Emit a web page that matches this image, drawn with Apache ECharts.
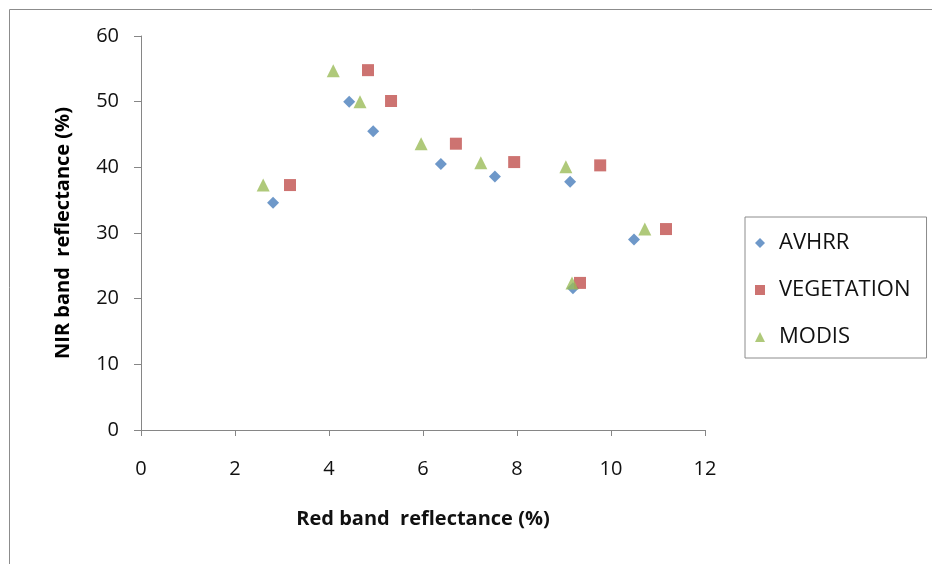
<!DOCTYPE html>
<html>
<head>
<meta charset="utf-8">
<script src="https://cdn.jsdelivr.net/npm/echarts@6/dist/echarts.min.js"></script>
<style>
    html, body { margin: 0; padding: 0; background: #fff; }
    #chart { width: 932px; height: 564px; }
</style>
</head>
<body>
<div id="chart"></div>
<script>
// red band (x) / NIR band (y) reflectance, %
var avhrrX = [2.81, 4.43, 4.94, 6.38, 7.53, 9.13, 9.19, 10.49];
var avhrrY = [34.6, 50.0, 45.5, 40.5, 38.6, 37.8, 21.6, 29.0];
var vegX = [3.17, 4.83, 5.32, 6.70, 7.94, 9.77, 9.34, 11.17];
var vegY = [37.3, 54.8, 50.1, 43.6, 40.8, 40.3, 22.4, 30.6];
var modisX = [2.60, 4.09, 4.66, 5.96, 7.23, 9.04, 9.17, 10.72];
var modisY = [37.3, 54.7, 50.0, 43.6, 40.7, 40.1, 22.4, 30.6];

var xTicks = [0, 2, 4, 6, 8, 10, 12];
var yTicks = [0, 10, 20, 30, 40, 50, 60];

function pairs(xs, ys) {
    return xs.map(function (x, i) { return [x, ys[i]]; });
}

var font = '"Open Sans", sans-serif';
var chart = echarts.init(document.getElementById('chart'));

chart.setOption({
    animation: false,
    textStyle: { fontFamily: font },
    graphic: [{
        type: 'rect',
        shape: { x: 9.5, y: 9.5, width: 1000, height: 1000 },
        style: { fill: 'none', stroke: '#8c8c8c', lineWidth: 1 },
        silent: true
    }],
    grid: { left: 141, right: 227, top: 36, bottom: 134 },
    legend: {
        orient: 'vertical',
        left: 745,
        top: 217,
        padding: [15, 16, 10, 10],
        itemGap: 25,
        itemWidth: 10,
        itemHeight: 10,
        borderColor: '#8c8c8c',
        borderWidth: 1,
        textStyle: { fontSize: 22, color: '#111', lineHeight: 22, padding: [0, 0, 0, 9] },
        data: ['AVHRR', 'VEGETATION', 'MODIS']
    },
    xAxis: {
        type: 'value',
        min: 0, max: 12, interval: 2,
        name: 'Red band  reflectance (%)',
        nameLocation: 'middle',
        nameGap: 79,
        nameTextStyle: { fontSize: 20, fontWeight: 'bold', color: '#111' },
        splitLine: { show: false },
        axisLine: { onZero: false, lineStyle: { color: '#868686' } },
        axisTick: { show: true, length: 6, lineStyle: { color: '#868686' } },
        axisLabel: { margin: 29, fontSize: 20, color: '#111',
            formatter: function (v) { return xTicks.indexOf(v) >= 0 ? String(v) : ''; } }
    },
    yAxis: {
        type: 'value',
        min: 0, max: 60, interval: 10,
        name: 'NIR band  reflectance (%)',
        nameLocation: 'middle',
        nameRotate: 90,
        nameGap: 68,
        nameTextStyle: { fontSize: 20, fontWeight: 'bold', color: '#000' },
        splitLine: { show: false },
        axisLine: { show: true, onZero: false, lineStyle: { color: '#868686' } },
        axisTick: { show: true, length: 7, lineStyle: { color: '#868686' } },
        axisLabel: { margin: 22, fontSize: 20, color: '#111',
            formatter: function (v) { return yTicks.indexOf(v) >= 0 ? String(v) : ''; } }
    },
    series: [
        {
            name: 'AVHRR', type: 'scatter', symbol: 'diamond', symbolSize: 12,
            itemStyle: { color: '#4a7ebb' },
            data: pairs(avhrrX, avhrrY)
        },
        {
            name: 'VEGETATION', type: 'scatter', symbol: 'rect', symbolSize: 12,
            itemStyle: { color: '#c0504d' },
            data: pairs(vegX, vegY)
        },
        {
            name: 'MODIS', type: 'scatter', symbol: 'triangle', symbolSize: 13,
            itemStyle: { color: '#9bbb59' },
            data: pairs(modisX, modisY)
        }
    ]
});
</script>
</body>
</html>
